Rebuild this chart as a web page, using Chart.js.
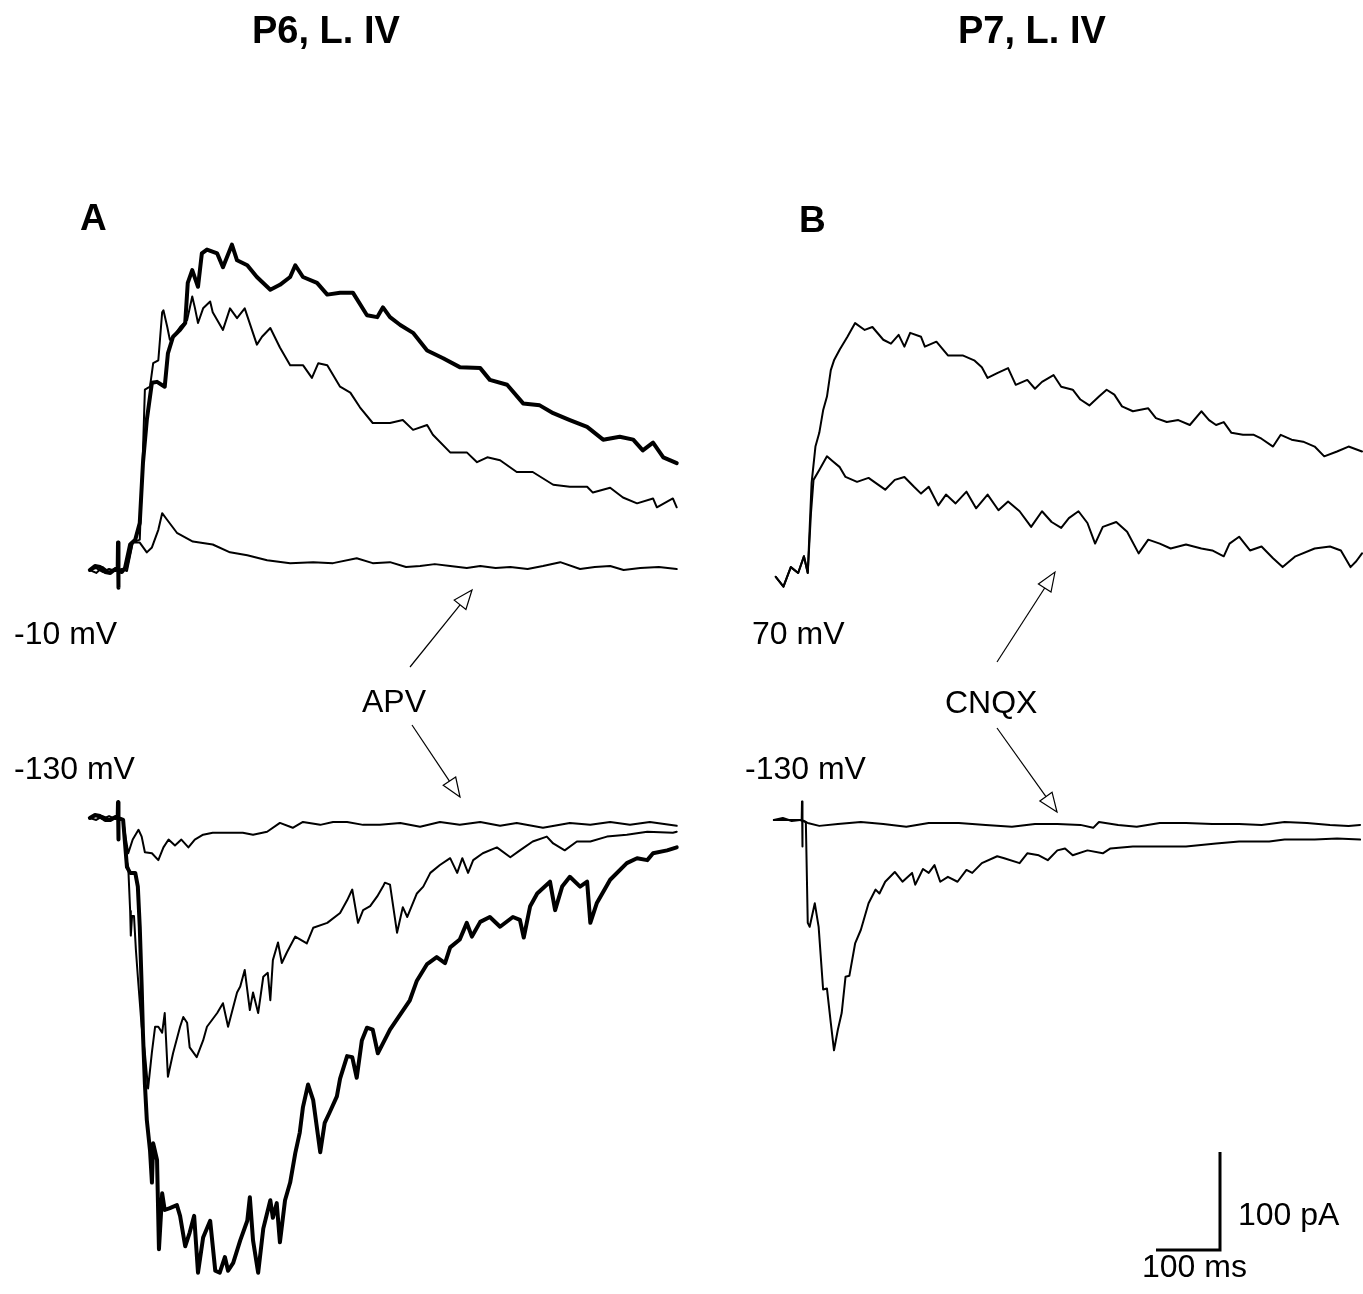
<!DOCTYPE html>
<html>
<head>
<meta charset="utf-8">
<title>P6 / P7 L. IV currents</title>
<script src="https://cdn.jsdelivr.net/npm/chart.js@4.4.1/dist/chart.umd.min.js"></script>
<style>
    html, body { margin: 0; padding: 0; background: #fff; }
    #wrap { position: relative; width: 1363px; height: 1294px; }
</style>
</head>
<body>
<div id="wrap"><canvas id="traces"></canvas></div>
<script>
// Traces as [time after stimulus (ms), current relative to baseline (pA)]

// Panel A, held at -10 mV
const aUpThick = [[-44,0],[-36,4],[-28,3],[-20,-2],[-12,-3],[-4,1],[-0.5,0],[0,28],[0.5,-18],[1,0],[6,-2],[11,2],[19,26],[27,31],[34,48],[39,109],[45,153],[53,191],[61,192],[73,187],[78,221],[86,238],[97,245],[105,252],[109,293],[116,306],[125,289],[131,323],[139,327],[155,323],[164,309],[178,332],[186,316],[202,311],[217,299],[238,286],[253,291],[269,299],[277,311],[289,299],[311,293],[327,281],[347,283],[367,283],[389,260],[405,258],[414,268],[425,258],[441,250],[461,242],[483,224],[508,216],[534,207],[566,206],[581,194],[608,189],[633,170],[659,168],[680,160],[706,153],[733,146],[758,133],[784,136],[805,133],[820,122],[836,130],[852,115],[873,109]];
const aUpThin = [[-44,0],[-34,-3],[-24,3],[-14,-2],[-4,2],[0,0],[6,1],[14,-1],[23,28],[34,31],[39,122],[42,184],[50,187],[55,211],[63,214],[69,263],[71,265],[77,248],[81,235],[86,238],[97,248],[108,255],[116,279],[120,268],[125,252],[133,267],[144,274],[148,263],[164,245],[175,267],[186,257],[198,267],[217,230],[225,238],[238,247],[253,227],[269,209],[289,209],[303,196],[313,211],[327,209],[347,187],[363,181],[378,166],[398,150],[425,150],[445,153],[461,143],[483,148],[492,138],[519,120],[545,120],[561,110],[577,115],[597,112],[623,100],[648,100],[680,87],[706,85],[733,85],[742,79],[769,84],[789,74],[811,68],[836,73],[842,64],[867,73],[873,64]];
const aUpApv = [[-44,0],[-34,2],[-24,-2],[-14,1],[-4,-1],[0,0],[6,0],[14,2],[23,28],[34,28],[45,18],[53,23],[63,41],[69,58],[77,51],[92,38],[117,29],[148,26],[175,18],[202,15],[233,10],[269,7],[305,8],[336,7],[373,12],[398,7],[425,8],[450,3],[472,4],[495,6],[519,4],[545,2],[566,4],[590,2],[613,3],[640,1],[664,4],[691,8],[722,1],[745,3],[769,4],[790,0],[816,2],[845,3],[873,1]];

// Panel A, held at -130 mV
const aLowThick = [[-44,0],[-36,3],[-28,2],[-20,-2],[-12,-2],[-4,1],[-0.5,0],[0,16],[0.5,-22],[1,0],[8,-2],[14,-50],[19,-56],[27,-56],[31,-70],[34,-111],[37,-172],[39,-220],[42,-271],[45,-308],[50,-339],[53,-372],[55,-332],[61,-349],[64,-440],[69,-383],[73,-400],[81,-398],[92,-395],[97,-406],[105,-437],[112,-423],[119,-406],[125,-464],[133,-428],[144,-411],[152,-462],[159,-464],[167,-448],[172,-462],[180,-454],[191,-431],[202,-411],[206,-387],[211,-431],[219,-464],[227,-419],[238,-390],[242,-408],[248,-393],[253,-433],[261,-390],[269,-372],[277,-342],[284,-321],[289,-295],[297,-272],[305,-288],[316,-341],[323,-311],[331,-300],[342,-284],[347,-266],[358,-243],[366,-244],[373,-265],[381,-227],[389,-214],[398,-216],[406,-240],[414,-230],[425,-216],[456,-186],[467,-166],[483,-149],[498,-142],[511,-148],[519,-132],[534,-124],[545,-107],[553,-121],[566,-106],[581,-101],[597,-111],[617,-101],[628,-104],[634,-122],[644,-90],[655,-77],[675,-65],[683,-94],[694,-70],[706,-60],[722,-70],[733,-65],[738,-107],[748,-87],[769,-63],[795,-46],[811,-41],[827,-43],[836,-36],[858,-33],[873,-30]];
const aLowThin = [[-44,0],[-34,-2],[-24,2],[-14,-1],[-4,1],[0,0],[8,-2],[14,-45],[16,-50],[19,-95],[20,-120],[22,-100],[25,-100],[28,-135],[31,-162],[37,-213],[42,-240],[47,-276],[53,-239],[58,-213],[63,-213],[69,-219],[73,-199],[78,-264],[86,-240],[97,-213],[102,-203],[108,-209],[112,-234],[123,-244],[133,-227],[139,-213],[155,-199],[164,-189],[172,-213],[186,-178],[191,-172],[198,-155],[206,-196],[211,-178],[219,-199],[227,-162],[234,-158],[238,-186],[242,-145],[250,-127],[256,-148],[264,-137],[277,-121],[295,-128],[305,-112],[327,-107],[347,-97],[358,-84],[366,-73],[375,-107],[383,-94],[394,-90],[405,-80],[414,-70],[417,-66],[425,-68],[436,-117],[445,-91],[452,-101],[467,-77],[477,-70],[488,-56],[503,-48],[519,-41],[530,-56],[538,-41],[547,-56],[555,-43],[570,-36],[592,-30],[613,-40],[628,-33],[648,-24],[670,-19],[680,-26],[698,-33],[717,-24],[738,-24],[764,-19],[795,-17],[827,-14],[867,-15],[873,-14]];
const aLowApv = [[-44,0],[-34,2],[-24,-1],[-14,2],[-4,-1],[0,0],[8,-2],[12,-20],[16,-36],[23,-22],[32,-12],[37,-19],[42,-35],[53,-36],[63,-43],[71,-30],[79,-22],[89,-28],[99,-22],[110,-30],[120,-22],[133,-17],[148,-15],[170,-15],[195,-15],[211,-17],[233,-14],[253,-5],[273,-10],[289,-4],[316,-7],[336,-4],[358,-4],[383,-7],[409,-7],[441,-5],[472,-9],[503,-4],[534,-7],[566,-4],[597,-8],[623,-5],[664,-10],[706,-5],[738,-7],[769,-4],[800,-7],[831,-4],[873,-8]];

// Panel B, held at 70 mV
const bUpCtrl = [[-41,-5],[-29,-15],[-17.5,5],[-6,-1],[3,16],[9,-1],[15,91],[21,128],[27,142],[33,165],[39,179],[45,206],[50,216],[59,227],[71,240],[83,254],[98,247],[110,250],[127,237],[139,233],[151,242],[160,230],[169,244],[186,240],[192,230],[210,235],[228,221],[251,221],[269,216],[281,209],[290,198],[305,203],[322,208],[334,191],[352,196],[364,187],[375,194],[393,201],[405,189],[423,186],[435,176],[449,170],[464,179],[476,186],[488,181],[500,169],[517,164],[541,167],[553,157],[570,153],[588,155],[606,150],[624,164],[636,155],[647,150],[659,153],[671,142],[689,140],[706,140],[718,136],[736,128],[748,140],[765,135],[783,133],[801,128],[816,118],[836,123],[854,128],[875,123]];
const bUpCnqx = [[-41,-5],[-29,-15],[-17.5,5],[-6,-1],[3,16],[9,-1],[14,60],[18,94],[27,104],[39,118],[48,113],[59,107],[68,97],[86,92],[104,96],[115,91],[130,84],[145,94],[160,97],[175,87],[186,80],[198,87],[213,68],[225,79],[240,70],[257,82],[272,65],[290,79],[307,63],[322,72],[340,62],[358,46],[375,62],[390,51],[405,45],[417,55],[432,62],[446,50],[458,29],[470,46],[491,51],[508,41],[526,19],[541,33],[559,29],[576,24],[600,28],[624,24],[641,22],[659,16],[668,29],[683,36],[700,22],[718,26],[736,14],[751,5],[771,16],[801,24],[825,26],[842,22],[857,5],[866,11],[875,19]];

// Panel B, held at -130 mV
const bLowCtrl = [[-44,0],[-30,2],[-16,-1],[-3,0],[-0.5,0],[0,19],[0.5,-27],[1,0],[6,-2],[9,-105],[12,-109],[20,-85],[26,-109],[33,-173],[39,-172],[45,-207],[50,-235],[56,-214],[62,-197],[68,-160],[74,-159],[83,-126],[92,-112],[104,-85],[115,-71],[121,-75],[130,-63],[145,-53],[157,-63],[172,-54],[177,-66],[189,-50],[198,-54],[207,-46],[216,-63],[228,-58],[243,-63],[257,-51],[266,-54],[281,-44],[305,-37],[316,-39],[340,-44],[352,-34],[370,-36],[384,-41],[399,-31],[411,-29],[423,-36],[446,-31],[470,-34],[482,-29],[517,-27],[565,-27],[600,-27],[647,-24],[683,-22],[730,-22],[754,-20],[801,-20],[836,-19],[872,-20]];
const bLowCnqx = [[-44,0],[-26,0],[-3,0],[9,-3],[27,-6],[56,-4],[92,-2],[127,-4],[163,-7],[198,-3],[245,-3],[287,-5],[328,-7],[364,-4],[399,-4],[435,-5],[455,-8],[464,-2],[494,-5],[523,-7],[559,-3],[600,-3],[641,-4],[683,-4],[718,-5],[754,-2],[789,-3],[825,-5],[854,-6],[872,-5]];

// Scale bar lengths
const barMs = 100;
const barPa = 100;

// Page geometry (pixels)
const W = 1363, H = 1294;
const MS_PX = 0.64;   // 100 ms = 64 px
const PA_PX = 0.98;   // 100 pA = 98 px

// where stimulus time / baseline sit for each group of traces
const origins = {
    aUp:  { x: 118, y: 570 },
    aLow: { x: 118, y: 818 },
    bUp:  { x: 802, y: 572 },
    bLow: { x: 802, y: 820 }
};
const barCorner = { x: 1220, y: 1250 };

function place(trace, o) {
    const x0 = o.x / MS_PX;
    const y0 = -o.y / PA_PX;
    return trace.map(p => ({ x: x0 + p[0], y: y0 + p[1] }));
}

function trace(data, o, width) {
    return {
        data: place(data, o),
        showLine: true,
        borderColor: '#000',
        borderWidth: width,
        pointRadius: 0,
        borderJoinStyle: 'round',
        borderCapStyle: 'round',
        tension: 0
    };
}

const FONT = '"Liberation Sans", Arial, sans-serif';
const labels = [
    { text: 'P6, L. IV', x: 252, y: 43, font: 'bold 38px ' + FONT },
    { text: 'P7, L. IV', x: 958, y: 43, font: 'bold 38px ' + FONT },
    { text: 'A', x: 80, y: 230, font: 'bold 37px ' + FONT },
    { text: 'B', x: 799, y: 232, font: 'bold 37px ' + FONT },
    { text: '-10 mV', x: 14, y: 644, font: '32px ' + FONT },
    { text: '70 mV', x: 752, y: 644, font: '32px ' + FONT },
    { text: 'APV', x: 362, y: 712, font: '32px ' + FONT },
    { text: 'CNQX', x: 945, y: 713, font: '32px ' + FONT },
    { text: '-130 mV', x: 14, y: 779, font: '32px ' + FONT },
    { text: '-130 mV', x: 745, y: 779, font: '32px ' + FONT },
    { text: '100 pA', x: 1238, y: 1225, font: '32px ' + FONT },
    { text: '100 ms', x: 1142, y: 1277, font: '32px ' + FONT }
];

// drug arrows: from label to trace, [x1, y1, x2, y2]
const arrows = [
    [410, 667, 472, 590],
    [412, 725, 460, 797],
    [997, 662, 1055, 572],
    [997, 728, 1057, 812]
];

function drawArrow(ctx, x1, y1, x2, y2) {
    const ang = Math.atan2(y2 - y1, x2 - x1);
    const len = 19, half = 7.5;
    const bx = x2 - len * Math.cos(ang);
    const by = y2 - len * Math.sin(ang);
    const nx = -Math.sin(ang), ny = Math.cos(ang);
    ctx.beginPath();
    ctx.moveTo(x1, y1);
    ctx.lineTo(bx, by);
    ctx.stroke();
    ctx.beginPath();
    ctx.moveTo(x2, y2);
    ctx.lineTo(bx + nx * half, by + ny * half);
    ctx.lineTo(bx - nx * half, by - ny * half);
    ctx.closePath();
    ctx.fillStyle = '#fff';
    ctx.fill();
    ctx.stroke();
}

const annotations = {
    id: 'annotations',
    afterDraw(chart) {
        const ctx = chart.ctx;
        ctx.save();
        ctx.textBaseline = 'alphabetic';
        labels.forEach(l => {
            ctx.font = l.font;
            ctx.fillStyle = '#000';
            ctx.fillText(l.text, l.x, l.y);
        });
        ctx.strokeStyle = '#000';
        ctx.lineWidth = 1.2;
        arrows.forEach(a => drawArrow(ctx, a[0], a[1], a[2], a[3]));
        ctx.restore();
    }
};

// scale bar drawn through the same scales as the traces
const cx = barCorner.x / MS_PX, cy = -barCorner.y / PA_PX;
const scaleBar = {
    data: [{ x: cx - barMs, y: cy }, { x: cx, y: cy }, { x: cx, y: cy + barPa }],
    showLine: true,
    borderColor: '#000',
    borderWidth: 3,
    pointRadius: 0,
    borderJoinStyle: 'miter',
    tension: 0
};

new Chart(document.getElementById('traces'), {
    type: 'scatter',
    data: {
        datasets: [
            trace(aUpApv, origins.aUp, 2),
            trace(aUpThin, origins.aUp, 2),
            trace(aUpThick, origins.aUp, 4),
            trace(aLowApv, origins.aLow, 2),
            trace(aLowThin, origins.aLow, 2),
            trace(aLowThick, origins.aLow, 4),
            trace(bUpCtrl, origins.bUp, 2),
            trace(bUpCnqx, origins.bUp, 2),
            trace(bLowCtrl, origins.bLow, 2),
            trace(bLowCnqx, origins.bLow, 2),
            scaleBar
        ]
    },
    options: {
        responsive: true,
        maintainAspectRatio: false,
        animation: false,
        layout: { padding: 0 },
        scales: {
            x: { type: 'linear', min: 0, max: W / MS_PX, display: false },
            y: { type: 'linear', min: -H / PA_PX, max: 0, display: false }
        },
        plugins: {
            legend: { display: false },
            tooltip: { enabled: false }
        }
    },
    plugins: [annotations]
});
</script>
</body>
</html>
